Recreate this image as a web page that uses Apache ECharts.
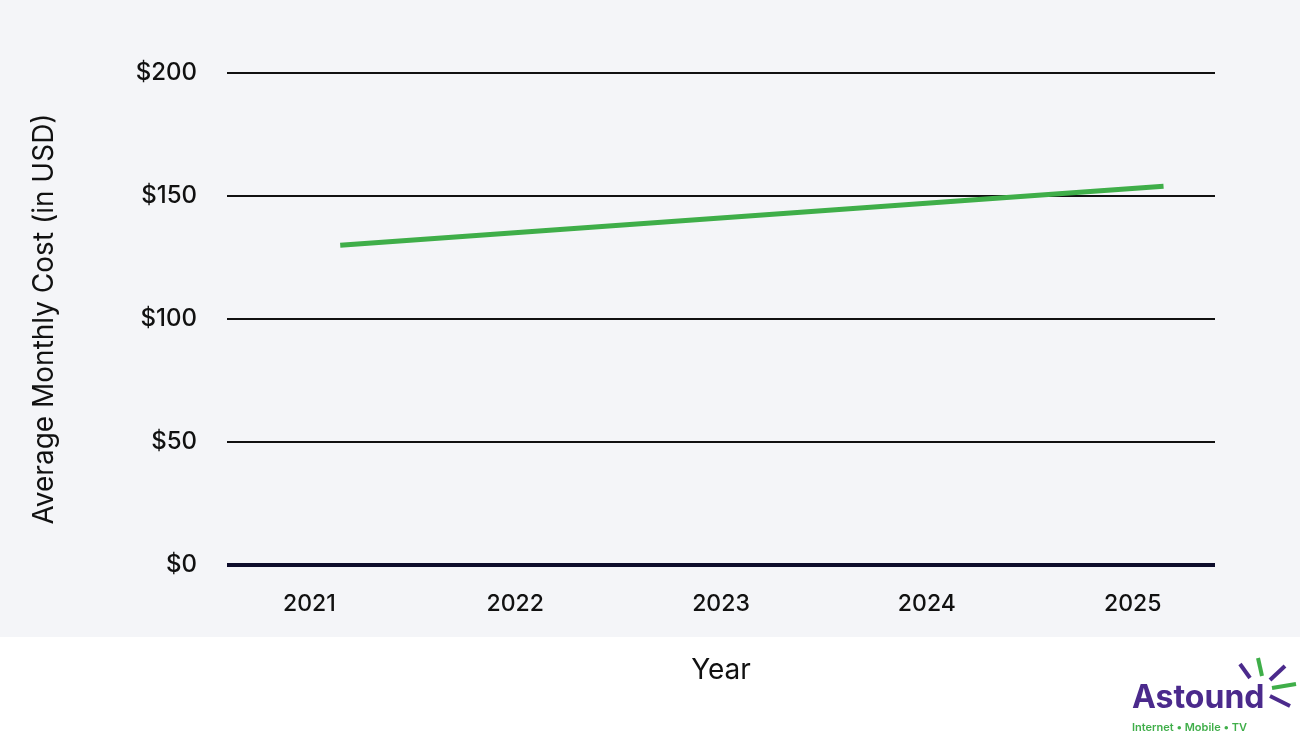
<!DOCTYPE html>
<html>
<head>
<meta charset="utf-8">
<script src="https://cdn.jsdelivr.net/npm/echarts@6/dist/echarts.min.js"></script>
<style>html,body{margin:0;padding:0;background:#fff}#chart{width:1300px;height:740px}</style>
</head>
<body>
<div id="chart"></div>
<script>
// 数据
var years = [2021.15, 2022.15, 2023.15, 2024.15, 2025.15];
var cost = [130, 136, 142, 148, 154];
var yTicks = [0, 50, 100, 150, 200];

var font = 'Inter, "Open Sans", sans-serif';
var chart = echarts.init(document.getElementById('chart'));
var points = years.map(function (y, i) { return [y, cost[i]]; });

chart.setOption({
    animation: false,
    grid: { left: 227, right: 85, top: 73, bottom: 175 },
    graphic: [
        { type: 'rect', z: -10, shape: { x: 0, y: 0, width: 1300, height: 637 }, style: { fill: '#f4f5f8' } },
        { type: 'text', left: 1132, top: 682, style: { text: 'Astound', fill: '#4b2a8c', font: 'bold 32px ' + font } },
        { type: 'text', left: 1132, top: 722, style: { text: 'Internet • Mobile • TV', fill: '#3fae49', font: '600 11px ' + font } },
        { type: 'line', shape: { x1: 1262, y1: 676, x2: 1258, y2: 658 }, style: { stroke: '#3fae49', lineWidth: 4 } },
        { type: 'line', shape: { x1: 1270, y1: 680, x2: 1285, y2: 666 }, style: { stroke: '#4b2a8c', lineWidth: 4 } },
        { type: 'line', shape: { x1: 1272, y1: 688, x2: 1296, y2: 684 }, style: { stroke: '#3fae49', lineWidth: 4 } },
        { type: 'line', shape: { x1: 1270, y1: 696, x2: 1290, y2: 706 }, style: { stroke: '#4b2a8c', lineWidth: 4 } },
        { type: 'line', shape: { x1: 1250, y1: 678, x2: 1240, y2: 664 }, style: { stroke: '#4b2a8c', lineWidth: 4 } }
    ],
    xAxis: {
        type: 'value',
        min: 2020.6, max: 2025.4, interval: 0.2,
        name: 'Year', nameLocation: 'middle', nameGap: 92,
        nameTextStyle: { fontSize: 28, color: '#111', fontFamily: font },
        axisLine: { show: false }, axisTick: { show: false }, splitLine: { show: false },
        axisLabel: {
            fontSize: 23, fontWeight: 500, color: '#111', fontFamily: font, margin: 28,
            formatter: function (v) {
                return Math.abs(v - Math.round(v)) < 1e-6 ? String(Math.round(v)) : '';
            }
        }
    },
    yAxis: {
        type: 'value', min: 0, max: 200, interval: 50,
        name: 'Average Monthly Cost (in USD)', nameLocation: 'middle', nameGap: 168,
        nameTextStyle: { fontSize: 28, color: '#111', fontFamily: font },
        axisLine: { show: false }, axisTick: { show: false },
        axisLabel: { fontSize: 24, fontWeight: 500, color: '#111', fontFamily: font, margin: 30, formatter: '${value}' },
        splitLine: { lineStyle: { color: '#111', width: 2 } }
    },
    series: [
        {
            type: 'line', data: points, symbol: 'none',
            lineStyle: { color: '#3fae49', width: 5 }
        },
        {
            type: 'line', data: [[2020.6, 0], [2025.4, 0]], symbol: 'none', silent: true,
            lineStyle: { color: '#0d0d2b', width: 4 }
        }
    ]
});
</script>
</body>
</html>
